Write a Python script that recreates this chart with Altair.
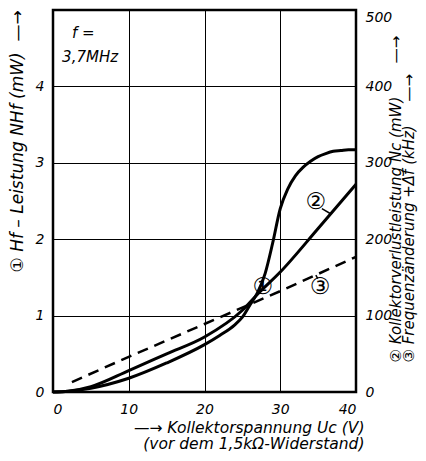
import altair as alt
import pandas as pd

# ---- data ----
# curve 1: Hf-Leistung (mW), left axis
u1 = [0, 2, 5, 10, 15, 20, 22, 24, 25, 26, 27, 28, 29, 30, 31, 32, 33, 34, 35, 36, 37, 38, 39, 40]
hf = [0, 0.01, 0.05, 0.18, 0.38, 0.62, 0.74, 0.88, 0.98, 1.14, 1.3, 1.55, 1.95, 2.4, 2.66, 2.83,
      2.94, 3.02, 3.08, 3.12, 3.15, 3.16, 3.17, 3.17]
# curve 2: Kollektorverlustleistung Nc (mW), right axis
u2 = [0, 2, 5, 10, 15, 20, 25, 27, 30, 35, 40]
nc = [0, 1, 7, 28, 50, 72, 107, 128, 157, 214, 272]
# curve 3: Frequenzaenderung (kHz), right axis, dashed
u3 = [2.5, 10, 20, 30, 40]
dfr = [13, 46, 89, 132, 177]

x_ticks = [0, 10, 20, 30, 40]
yl_ticks = [0, 1, 2, 3, 4]
yr_ticks = [0, 100, 200, 300, 400, 500]

# annotations
note_x = [2.5, 1.2]
note_v = [4.70, 4.38]
note_t = ["f =", "3,7MHz"]
lab1_x, lab1_v, lab1_t = [27.7], [1.37], ["①"]
lab23_x, lab23_v, lab23_t = [34.7, 35.25], [249, 137], ["②", "③"]
lead_x = [35.5, 36.7, 34.95, 34.7]
lead_v = [240, 233, 148.5, 153]
lead_g = ["a", "a", "b", "b"]

FONT = "DejaVu Sans"
NB = "\u00a0"

c1 = pd.DataFrame({"x": u1, "v": hf})
c2 = pd.DataFrame({"x": u2, "v": nc})
c3 = pd.DataFrame({"x": u3, "v": dfr})
notes = pd.DataFrame({"x": note_x, "v": note_v, "t": note_t})
lab1 = pd.DataFrame({"x": lab1_x, "v": lab1_v, "t": lab1_t})
lab23 = pd.DataFrame({"x": lab23_x, "v": lab23_v, "t": lab23_t})
leads = pd.DataFrame({"x": lead_x, "v": lead_v, "g": lead_g})

common_axis = dict(domain=False, ticks=False, tickSize=0, labelFont=FONT, labelFontSize=14,
                   labelFontStyle="italic", labelColor="#000000", titleFont=FONT,
                   titleFontStyle="italic", titleFontWeight="normal",
                   titleColor="#000000", gridColor="#000000", gridWidth=1, gridOpacity=1)

X = alt.X("x:Q", scale=alt.Scale(domain=[0, 40], nice=False),
          axis=alt.Axis(values=x_ticks, grid=True, labelPadding=10,
                        title=["—→ Kollektorspannung Uc (V)", "(vor dem 1,5kΩ-Widerstand)"],
                        titleAlign="right", titleX=311, titleY=35, titleBaseline="middle",
                        titleFontSize=15.5, titleLineHeight=16.5, **common_axis))

YL = alt.Y("v:Q", scale=alt.Scale(domain=[0, 5], nice=False),
           axis=alt.Axis(orient="left", values=yl_ticks, grid=True, labelPadding=9,
                         title="① Hf – Leistung NHf (mW)" + NB * 2 + "—→", titleAngle=270,
                         titleAlign="left", titleBaseline="middle", titleX=-36, titleY=262,
                         titleFontSize=17, **common_axis))

YR = alt.Y("v:Q", scale=alt.Scale(domain=[0, 500], nice=False),
           axis=alt.Axis(orient="right", values=yr_ticks, grid=False, labelPadding=9,
                         labelBaseline={"condition": {"test": "datum.value == 500", "value": "top"},
                                        "value": "middle"},
                         title=["② Kollektorverlustleistung Nc (mW)" + NB * 7 + "—→",
                                "③ Frequenzänderung +Δf (kHz)" + NB * 5 + "—→"],
                         titleAngle=270, titleAlign="left", titleBaseline="middle",
                         titleX=39, titleY=352, titleFontSize=15, titleLineHeight=13.5,
                         **common_axis))

line1 = alt.Chart(c1).mark_line(color="black", strokeWidth=3, interpolate="monotone").encode(x=X, y=YL)
note_layer = alt.Chart(notes).mark_text(font=FONT, fontSize=15, fontStyle="italic", align="left",
                                        baseline="middle", color="black").encode(x=X, y=YL, text="t:N")
lab1_layer = alt.Chart(lab1).mark_text(font=FONT, fontSize=23, fontStyle="normal",
                                       color="black").encode(x=X, y=YL, text="t:N")
left = alt.layer(line1, note_layer, lab1_layer)

line2 = alt.Chart(c2).mark_line(color="black", strokeWidth=3, interpolate="monotone").encode(x=X, y=YR)
line3 = alt.Chart(c3).mark_line(color="black", strokeWidth=2.5, strokeDash=[11, 7]).encode(x=X, y=YR)
lead_layer = alt.Chart(leads).mark_line(color="black", strokeWidth=1.5).encode(x=X, y=YR, detail="g:N")
lab23_layer = alt.Chart(lab23).mark_text(font=FONT, fontSize=23, fontStyle="normal",
                                         color="black").encode(x=X, y=YR, text="t:N")
right = alt.layer(line2, line3, lead_layer, lab23_layer)

chart = alt.layer(left, right).resolve_scale(y="independent").properties(
    width=303, height=382,
    autosize=alt.AutoSizeParams(type="none"),
    padding={"left": 45, "top": 2, "right": 62, "bottom": 61},
    background="white",
).configure_view(stroke="black", strokeWidth=2.5)

chart.save("out.html", embed_options={"renderer": "svg", "actions": False})
